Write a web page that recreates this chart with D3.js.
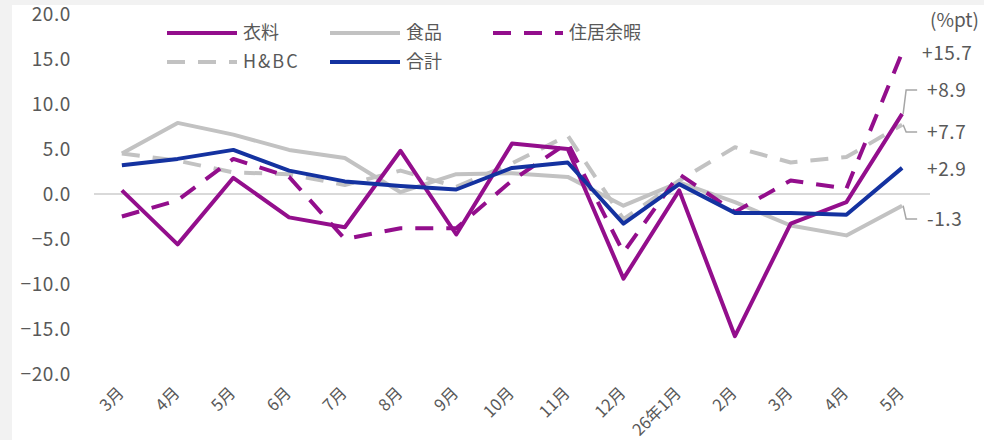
<!DOCTYPE html>
<html>
<head>
<meta charset="utf-8">
<script src="https://cdn.jsdelivr.net/npm/d3@7/dist/d3.min.js"></script>
<style>
  html, body { margin: 0; padding: 0; background: #f2f2f2; }
  svg { display: block; }
  text { font-family: "Noto Sans CJK JP", "Noto Sans", sans-serif; fill: #595959; }
</style>
</head>
<body>
<svg id="chart" width="984" height="440"></svg>
<script>
// Months on the x axis
const months = ["3月","4月","5月","6月","7月","8月","9月","10月","11月","12月","26年1月","2月","3月","4月","5月"];

// Year-on-year change by category (%pt)
const clothing = [0.4, -5.6, 1.8, -2.6, -3.7, 4.8, -4.5, 5.6, 5.0, -9.4, 0.4, -15.8, -3.3, -0.9, 8.9];
const food     = [4.5, 7.9, 6.6, 4.9, 4.0, 0.2, 2.2, 2.3, 1.9, -1.3, 1.3, -0.9, -3.5, -4.6, -1.3];
const housing  = [-2.5, -0.7, 3.9, 1.9, -5.0, -3.8, -3.8, 1.5, 5.7, -6.5, 2.2, -2.0, 1.5, 0.6, 15.7];
const hbc      = [4.5, 3.7, 2.4, 2.2, 1.0, 2.6, 0.8, 3.4, 6.5, -2.8, 1.5, 5.2, 3.5, 4.1, 7.7];
const total    = [3.2, 3.9, 4.9, 2.6, 1.4, 0.9, 0.5, 2.9, 3.5, -3.3, 1.1, -2.1, -2.1, -2.3, 2.9];

// Y axis ticks
const yTicks = [20, 15, 10, 5, 0, -5, -10, -15, -20];

const purple = "#930e8c", gray = "#c2c2c2", blue = "#1432a0";
const DASH = "18,13";

const series = [
  { name: "H&BC",   values: hbc,      color: gray,   dash: DASH },
  { name: "食品",   values: food,     color: gray,   dash: null },
  { name: "住居余暇", values: housing,  color: purple, dash: DASH },
  { name: "衣料",   values: clothing, color: purple, dash: null },
  { name: "合計",   values: total,    color: blue,   dash: null }
];

const svg = d3.select("#chart");

// white chart panel
svg.append("rect").attr("x", 12).attr("y", 5).attr("width", 972).attr("height", 435).attr("fill", "#ffffff");

const x = d3.scaleBand().domain(d3.range(months.length)).range([94, 930]);
const xc = i => x(i) + x.bandwidth() / 2;
const y = d3.scaleLinear().domain([-20, 20]).range([374, 14]);

// y axis labels
const yAxis = d3.axisLeft(y).tickValues(yTicks).tickFormat(d3.format(".1f")).tickSize(0).tickPadding(0);
const ya = svg.append("g").attr("transform", "translate(71,0)").call(yAxis);
ya.select(".domain").remove();
ya.selectAll("text").attr("font-size", 19).attr("fill", "#5f5f5f").attr("letter-spacing", "0.6px")
  .style("font-family", "'Noto Sans CJK JP', sans-serif");

// zero line
svg.append("line").attr("x1", 94).attr("x2", 930).attr("y1", y(0)).attr("y2", y(0))
  .attr("stroke", "#d9d9d9").attr("stroke-width", 2);

// x axis labels (rotated)
const xAxis = d3.axisBottom(x).tickFormat(i => months[i]).tickSize(0).tickPadding(0);
const xa = svg.append("g").attr("transform", "translate(0,390)").call(xAxis);
xa.select(".domain").remove();
xa.selectAll("text")
  .attr("font-size", 16.5).attr("fill", "#5f5f5f")
  .style("font-family", "'Noto Sans CJK JP', sans-serif")
  .attr("text-anchor", "end")
  .attr("y", 0)
  .attr("dy", "0.35em")
  .attr("transform", "translate(-1,0) rotate(-45)");

// lines
const line = d3.line().x((d, i) => xc(i)).y(d => y(d));
series.forEach(s => {
  svg.append("path")
    .datum(s.values)
    .attr("d", line)
    .attr("fill", "none")
    .attr("stroke", s.color)
    .attr("stroke-width", 4)
    .attr("stroke-linejoin", "round")
    .attr("stroke-dasharray", s.dash);
});

// legend
const legendItems = [
  { name: "衣料",   color: purple, dash: null, lx: 167, ly: 33 },
  { name: "食品",   color: gray,   dash: null, lx: 330, ly: 33 },
  { name: "住居余暇", color: purple, dash: DASH, lx: 493, ly: 33 },
  { name: "H&BC",   color: gray,   dash: DASH, lx: 167, ly: 62 },
  { name: "合計",   color: blue,   dash: null, lx: 330, ly: 62 }
];
const lg = svg.append("g");
legendItems.forEach(it => {
  lg.append("line").attr("x1", it.lx).attr("x2", it.lx + 70).attr("y1", it.ly).attr("y2", it.ly)
    .attr("stroke", it.color).attr("stroke-width", 4).attr("stroke-dasharray", it.dash);
  lg.append("text").attr("x", it.lx + 76).attr("y", it.ly).attr("dy", "0.35em")
    .attr("font-size", 18)
    .attr("letter-spacing", /^[A-Za-z&]+$/.test(it.name) ? "2px" : null)
    .text(it.name);
});

// unit
svg.append("text").attr("x", 930).attr("y", 20).attr("dy", "0.35em").attr("font-size", 19).text("(%pt)");

// end-value labels with leader lines
const last = months.length - 1;
const fmt = v => (v > 0 ? "+" : "") + v.toFixed(1);
const endLabels = [
  { values: housing,  ly: 53,  leader: false },
  { values: clothing, ly: 90,  leader: true },
  { values: hbc,      ly: 132, leader: true },
  { values: total,    ly: 169, leader: false },
  { values: food,     ly: 219, leader: true }
];
endLabels.forEach(l => {
  const v = l.values[last];
  const px = xc(last), py = y(v);
  if (l.leader) {
    svg.append("path")
      .attr("d", `M${px + 1},${py} L${px + 4},${l.ly} L${px + 15},${l.ly}`)
      .attr("fill", "none").attr("stroke", "#a6a6a6").attr("stroke-width", 1.5);
  }
  svg.append("text").attr("x", l.values === housing ? 922 : 927).attr("y", l.ly).attr("dy", "0.35em")
    .attr("font-size", 19).attr("letter-spacing", "0.6px").text(fmt(v));
});
</script>
</body>
</html>
